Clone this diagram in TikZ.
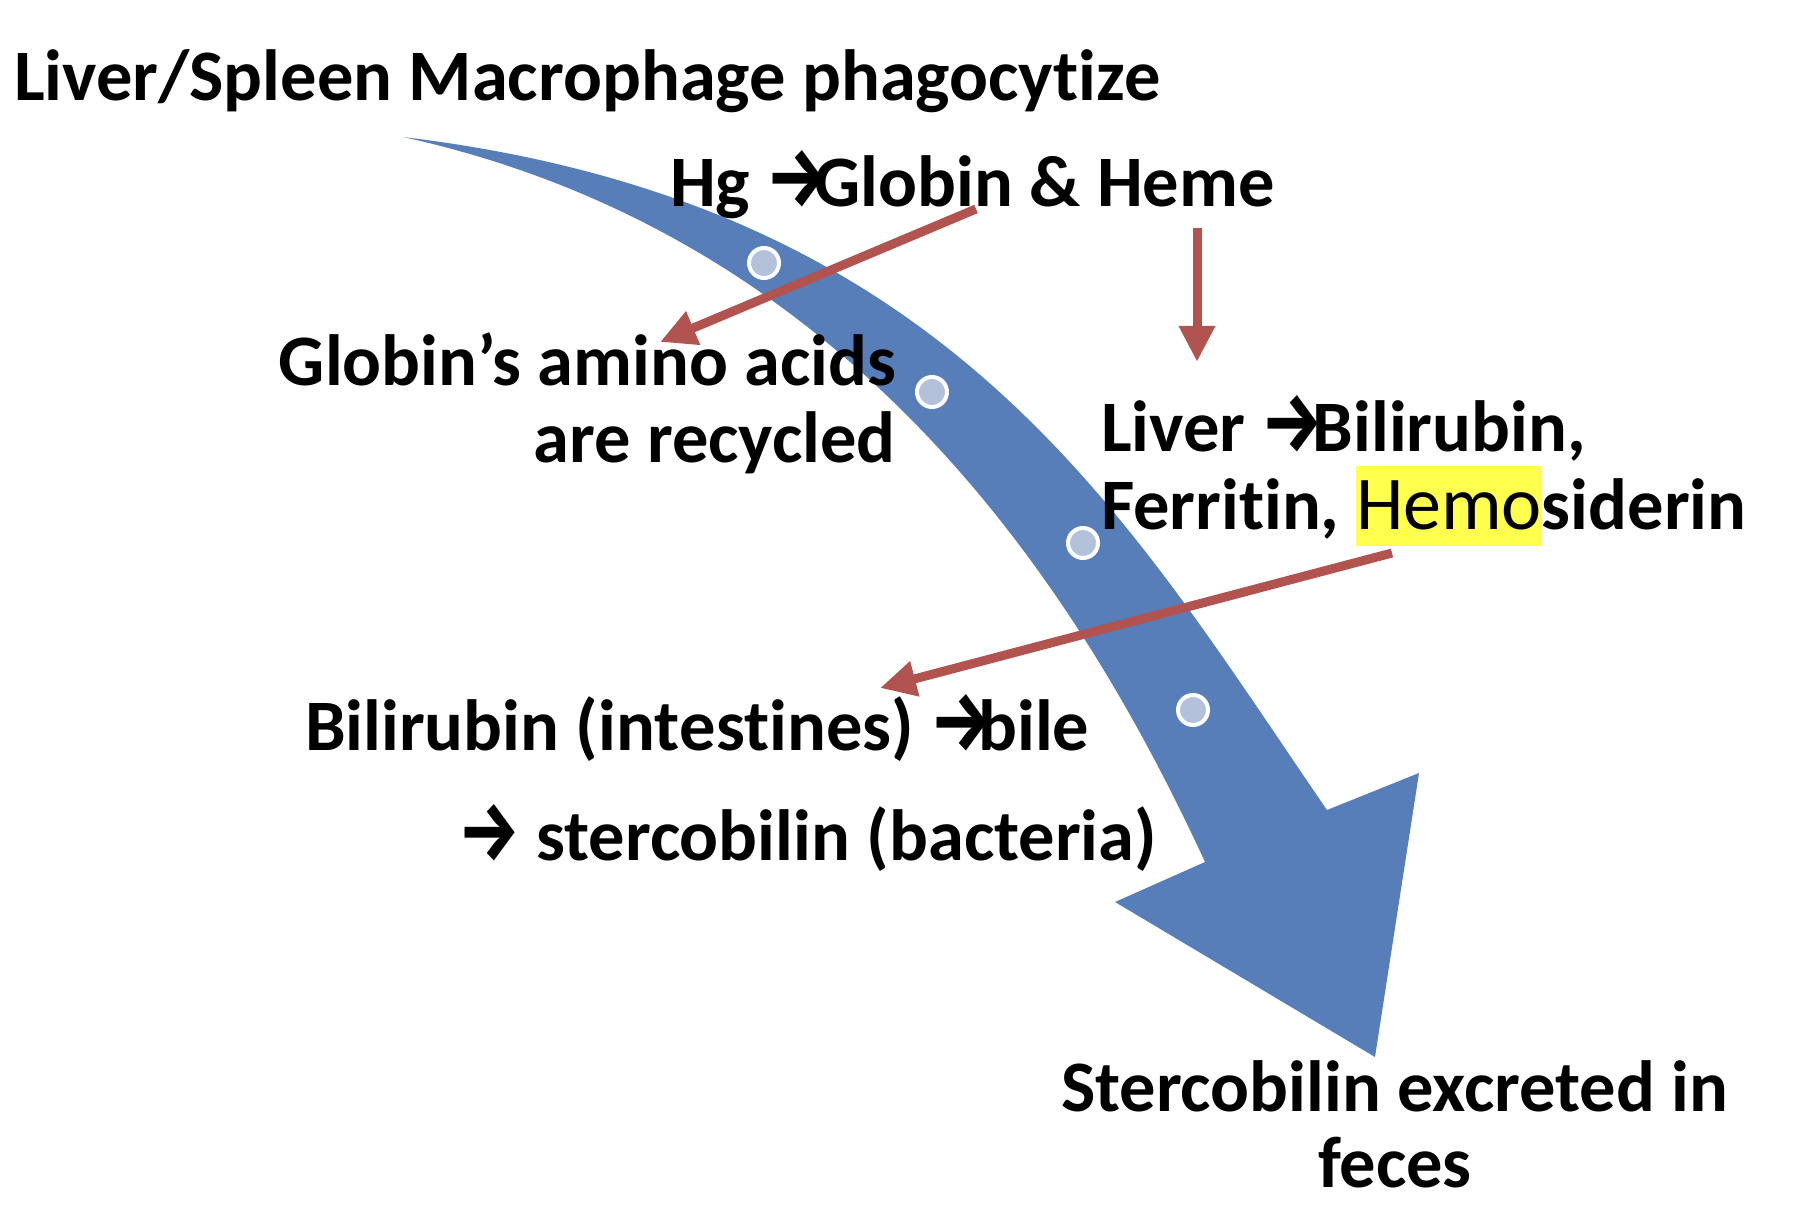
\documentclass[tikz,border=0pt]{standalone}
\usepackage{fontspec}
\setmainfont{Carlito}[Ligatures={NoCommon},RawFeature={-clig;-calt;-dlig}]
\newfontfamily\arrowfont{Fira Sans}
\usetikzlibrary{arrows.meta}
\definecolor{bandblue}{HTML}{587EB9}
\definecolor{dotfill}{HTML}{B4C1DA}
\definecolor{redarrow}{HTML}{B1534E}
\definecolor{hl}{HTML}{FFFF4D}
\newcommand{\myarr}{\resizebox{62pt}{56pt}{\arrowfont\bfseries →}}
\newcommand{\tnolig}{t\kern0pt }
\begin{document}
\begin{tikzpicture}[x=1pt,y=-1pt,
  txt/.style={font=\fontsize{72.5}{78}\selectfont\bfseries, inner sep=0pt, outer sep=0pt},
  dot/.style={circle, fill=dotfill, draw=white, line width=4pt, minimum size=30pt, inner sep=0pt},
  redarr/.style={draw=redarrow, line width=9pt, -{Triangle[length=36pt,width=34pt]}}]
\useasboundingbox (0,0) rectangle (1804,1230);
% big curved arrow
\coordinate (tail) at (403,137);
\coordinate (innR) at (1327,810);
\coordinate (barbR) at (1419,773);
\coordinate (tip) at (1375,1057);
\coordinate (barbL) at (1115,902);
\coordinate (innL) at (1205,862);
\fill[bandblue] (tail) .. controls (953,203) and (1127,519) .. (innR)
  -- (barbR) -- (tip) -- (barbL) -- (innL)
  .. controls (1079,589) and (853,236) .. (tail) -- cycle;
\node[dot] (c1) at (764,263) {};
\node[dot] (c2) at (932,392) {};
\node[dot] (c3) at (1083,543) {};
\node[dot] (c4) at (1193,710) {};
% red arrows
\coordinate (r1s) at (976,209);
\coordinate (r1e) at (660,342);
\coordinate (r2s) at (1197,228);
\coordinate (r2e) at (1197,362);
\coordinate (r3s) at (1392,553);
\coordinate (r3e) at (880,688);
\draw[redarr] (r1s) -- (r1e);
\draw[redarr] (r2s) -- (r2e);
\draw[redarr] (r3s) -- (r3e);
% texts
\node[txt, anchor=base west] (title) at (14,101) {Liver/Spleen Macrophage phagocy\tnolig ize};
\node[txt, anchor=base west] (hg) at (670,207) {Hg \myarr\kern-14pt Globin \& Heme};
\node[txt, anchor=base east] (globA) at (896,385) {Globin’s amino acids};
\node[txt, anchor=base east] (globB) at (896,462) {are recycled};
\node[txt, anchor=base west] (livA) at (1101,451) {Liver \myarr\kern-11pt Bilirubin,};
\node[txt, anchor=base west] (livB) at (1101,529) {Ferri\tnolig in, {\setlength{\fboxsep}{0pt}\colorbox{hl}{\rule[-17pt]{0pt}{80pt}\fontsize{76}{80}\selectfont\mdseries Hemo}}siderin};
\node[txt, anchor=base west] (bilA) at (305,750) {Bilirubin (in\tnolig es\tnolig ines) \myarr\kern-14pt bile};
\node[txt, anchor=base west] (bilB) at (458,860) {\myarr{} stercobilin (bacteria)};
\node[txt, anchor=base west] (sterA) at (1061,1111) {Stercobilin excreted in};
\node[txt, anchor=base] (sterB) at (1395,1187) {feces};
\end{tikzpicture}
\end{document}
